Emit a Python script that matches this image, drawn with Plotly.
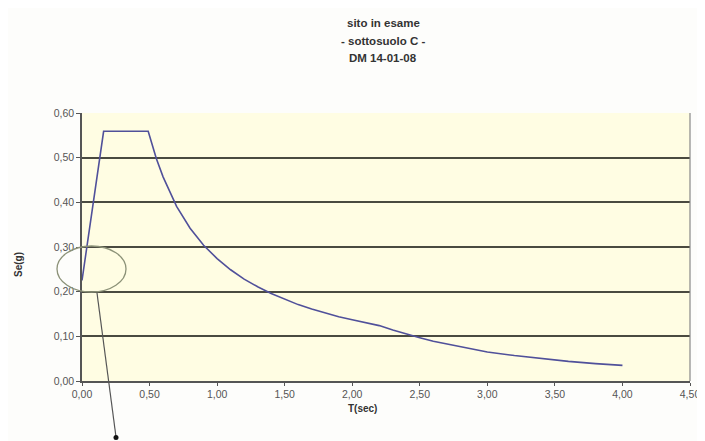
import plotly.graph_objects as go

# Spectrum values
T = [0.00, 0.16, 0.49, 0.55, 0.60, 0.70, 0.80, 0.90, 1.00, 1.10, 1.20, 1.30, 1.40,
     1.50, 1.60, 1.70, 1.80, 1.90, 2.00, 2.10, 2.20, 2.30, 2.40, 2.50, 2.60, 2.80,
     3.00, 3.20, 3.40, 3.60, 3.80, 4.00]
Se = [0.225, 0.559, 0.559, 0.498, 0.457, 0.391, 0.342, 0.304, 0.274, 0.249, 0.228,
      0.211, 0.196, 0.183, 0.171, 0.161, 0.152, 0.144, 0.137, 0.130, 0.124, 0.114,
      0.105, 0.097, 0.089, 0.077, 0.065, 0.057, 0.050, 0.044, 0.039, 0.035]

title_lines = ["sito in esame", "- sottosuolo C -", "DM 14-01-08"]
x_ticks = [0.0, 0.5, 1.0, 1.5, 2.0, 2.5, 3.0, 3.5, 4.0, 4.5]
y_ticks = [0.0, 0.1, 0.2, 0.3, 0.4, 0.5, 0.6]

W, H = 705, 441
OFF = 8  # page body offset
# plot area in screen pixels
SX0, SX1, SY0, SY1 = 82, 690, 113, 381
L = SX0 - OFF
R = W - (SX1 - OFF)
TOP = SY0 - OFF
B = H - (SY1 - OFF)
PW, PH = SX1 - SX0, SY1 - SY0

def px(x):
    return (x - SX0) / PW

def py(y):
    return (SY1 - y) / PH

fig = go.Figure()
fig.add_trace(go.Scatter(x=T, y=Se, mode="lines",
                         line=dict(color="#50509a", width=1.6),
                         showlegend=False, hoverinfo="skip"))

font_axis = dict(family="Liberation Sans, Arial, sans-serif", size=10.5, color="#555555")
font_title = dict(family="Liberation Sans, Arial, sans-serif", size=10, color="#333333")
font_head = dict(family="Liberation Sans, Arial, sans-serif", size=11.5, color="#333333")

fig.update_layout(
    width=W, height=H,
    margin=dict(l=L, r=R, t=TOP, b=B, autoexpand=False),
    paper_bgcolor="#fdfdfb",
    plot_bgcolor="#fffde3",
    separators=",.",
    xaxis=dict(range=[0, 4.5], tickvals=x_ticks, tickformat=".2f",
               showgrid=False, zeroline=False, showline=True,
               linecolor="#555555", linewidth=1.5, mirror=False,
               ticks="outside", ticklen=3, tickcolor="#555555",
               tickfont=font_axis, automargin=False),
    yaxis=dict(range=[0, 0.6], tickvals=y_ticks, tickformat=".2f",
               showgrid=True, gridcolor="#4a4a40", gridwidth=1.5,
               zeroline=False, showline=True,
               linecolor="#555555", linewidth=1.5,
               ticks="outside", ticklen=4, tickcolor="#555555",
               tickfont=font_axis, automargin=False),
)

# axis titles
fig.add_annotation(text="<b>T(sec)</b>", xref="paper", yref="paper",
                   x=px(362), y=py(408), showarrow=False,
                   xanchor="center", yanchor="middle", font=font_title)
fig.add_annotation(text="<b>Se(g)</b>", xref="paper", yref="paper",
                   x=px(18), y=py(265), showarrow=False, textangle=-90,
                   xanchor="center", yanchor="middle", font=font_title)

# right border of plot area
fig.add_shape(type="line", xref="paper", yref="paper", x0=1, x1=1, y0=0, y1=1,
              line=dict(color="#888888", width=1.2))

# title lines
for i, t in enumerate(title_lines):
    fig.add_annotation(text="<b>" + t + "</b>", xref="paper", yref="paper",
                       x=px(383), y=py(23 + i * 17.5), showarrow=False,
                       xanchor="center", yanchor="middle", font=font_head)

# ellipse highlight
fig.add_shape(type="circle", xref="paper", yref="paper",
              x0=px(57), x1=px(126), y0=py(292), y1=py(246),
              line=dict(color="#8c9278", width=1.3))
# pointer line and dot
fig.add_shape(type="line", xref="paper", yref="paper",
              x0=px(97), y0=py(293), x1=px(116), y1=py(437),
              line=dict(color="#555555", width=1.2))
fig.add_shape(type="circle", xref="paper", yref="paper",
              x0=px(113.5), x1=px(118.5), y0=py(440), y1=py(435),
              fillcolor="#111111", line=dict(color="#111111", width=0))

fig.write_html("out.html")
